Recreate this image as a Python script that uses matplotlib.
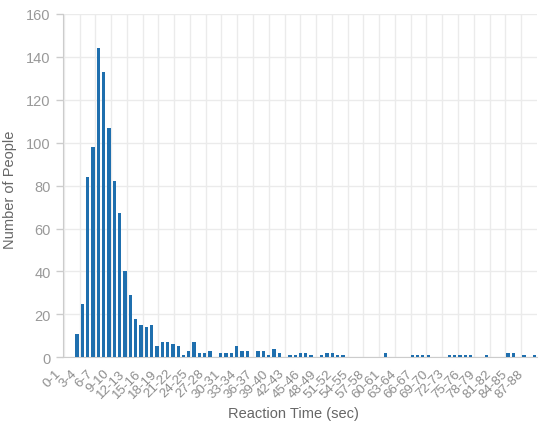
import matplotlib
matplotlib.use("Agg")
import matplotlib.pyplot as plt
import numpy as np

plt.rcParams['font.family'] = ['Liberation Sans', 'DejaVu Sans']

# one bin per second, 0-1 ... 87-88
bins = [f"{i}-{i + 1}" for i in range(88)]
counts = [11, 25, 84, 98, 144, 133, 107, 82, 67, 40,
          29, 18, 15, 14, 15, 5, 7, 7, 6, 5,
          1, 3, 7, 2, 2, 3, 0, 2, 2, 2,
          5, 3, 3, 0, 3, 3, 1, 4, 2, 0,
          1, 1, 2, 2, 1, 0, 1, 2, 2, 1,
          1, 0, 0, 0, 0, 0, 0, 0, 2, 0,
          0, 0, 0, 1, 1, 1, 1, 0, 0, 0,
          1, 1, 1, 1, 1, 0, 0, 1, 0, 0,
          0, 2, 2, 0, 1, 0, 1, 0]
label_every = 3

bar_color = '#1f6fae'
grid_color = '#ebebeb'
axis_color = '#cccccc'
tick_color = '#999999'
title_color = '#666666'

x = np.arange(len(bins))

fig = plt.figure(figsize=(5.5, 4.27), dpi=100)
ax = fig.add_axes([0.1151, 0.1611, 0.8613, 0.8038])

ax.bar(x, counts, width=0.62, color=bar_color, zorder=3)

ax.set_xlim(-2.52, 86.47)
ax.set_ylim(0, 160)
ax.set_yticks(np.arange(0, 161, 20))

# labels every third bin, drawn ending left of the bar
lab_idx = x[::label_every]
ax.set_xticks(lab_idx - 2.6)
ax.set_xticklabels([bins[i] for i in lab_idx], rotation=45, ha='right',
                   va='top', fontsize=9.6, color='#8c8c8c')
ax.tick_params(axis='x', length=0, pad=7)

# vertical grid lines (own spacing)
ax.set_xticks(np.linspace(-2.52, 83.47, 30), minor=True)
ax.tick_params(axis='x', which='minor', length=0)
ax.grid(True, which='minor', axis='x', color=grid_color, linewidth=1, zorder=0)
ax.grid(True, which='major', axis='y', color=grid_color, linewidth=1, zorder=0)

ax.tick_params(axis='y', length=5, width=1, color=axis_color, pad=4,
               labelsize=10.5, labelcolor=tick_color)

for side in ['top', 'right']:
    ax.spines[side].set_visible(False)
ax.spines['left'].set_color(axis_color)
ax.spines['bottom'].set_color(axis_color)

ax.set_xlabel('Reaction Time (sec)', fontsize=10.5, color=title_color)
ax.xaxis.set_label_coords(0.485, -0.142)
ax.set_ylabel('Number of People', fontsize=10.5, color=title_color)
ax.yaxis.set_label_coords(-0.097, 0.49)

fig.savefig('out.png', dpi=100)
